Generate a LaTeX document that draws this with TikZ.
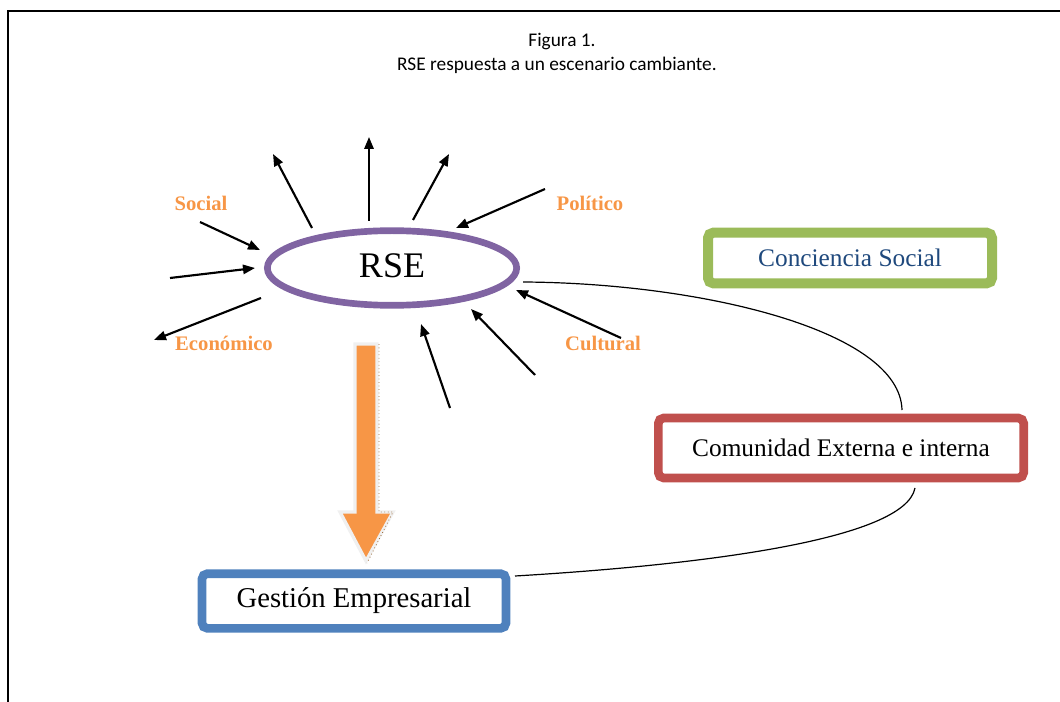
\documentclass[tikz,border=0pt]{standalone}
\usepackage{fontspec}
\setmainfont{Liberation Serif}
\newfontfamily\calib{Carlito}
\usetikzlibrary{arrows.meta,shapes.geometric}
\definecolor{rsepurple}{RGB}{128,100,162}
\definecolor{lblorange}{RGB}{247,150,70}
\definecolor{boxblue}{RGB}{79,129,189}
\definecolor{boxgreen}{RGB}{155,187,89}
\definecolor{boxred}{RGB}{192,80,77}
\definecolor{txtblue}{RGB}{31,73,125}
\tikzset{
  ray/.style={line width=1.6pt,-{Triangle[length=9pt,width=7pt]}},
  lbl/.style={text=lblorange,font=\fontsize{15.5}{18}\selectfont\bfseries},
  cbox/.style={draw,rounded corners=4pt,line width=6.5pt,fill=white,inner sep=0pt},
  link/.style={line width=0.9pt}
}
\begin{document}
\begin{tikzpicture}[x=0.75pt,y=-0.75pt]
\useasboundingbox (0,0) rectangle (1060,702);
% frame
\draw[line width=1pt] (8,702) -- (8,11) -- (1060,11);
% title
\node[font=\calib\fontsize{14.5}{16}\selectfont] (fig) at (562,42) {Figura 1.};
\node[font=\calib\fontsize{14.5}{16}\selectfont] (tit) at (557,65) {RSE respuesta a un escenario cambiante.};
% ellipse
\node[draw=rsepurple,line width=5pt,ellipse,minimum width=187pt,minimum height=56pt,inner sep=0pt] (rse) at (392,268) {};
\node[font=\fontsize{27}{30}\selectfont] (rsetxt) at (392,266) {RSE};
% rays (coordinates)
\coordinate (o1s) at (312,228); \coordinate (o1e) at (273,154);
\coordinate (o2s) at (369,221); \coordinate (o2e) at (369,137);
\coordinate (o3s) at (413,220); \coordinate (o3e) at (449,154);
\coordinate (i4s) at (545,189); \coordinate (i4e) at (456,228);
\coordinate (i5s) at (200,222); \coordinate (i5e) at (260,250);
\coordinate (i6s) at (170,278); \coordinate (i6e) at (255,268);
\coordinate (o7s) at (261,298); \coordinate (o7e) at (154,340);
\coordinate (i8s) at (450,408); \coordinate (i8e) at (421,324);
\coordinate (i9s) at (535,375); \coordinate (i9e) at (471,309);
\coordinate (i10s) at (621,338); \coordinate (i10e) at (516,290);
\foreach \a in {o1,o2,o3,i4,i5,i6,o7,i8,i9,i10}{\draw[ray] (\a s) -- (\a e);}
% labels
\node[lbl] (social) at (201,203) {Social};
\node[lbl] (politico) at (590,203) {Político};
\node[lbl] (economico) at (224,343) {Económico};
\node[lbl] (cultural) at (603,343) {Cultural};
% boxes
\node[cbox,draw=boxblue,minimum width=228pt,minimum height=41pt,font=\fontsize{21.5}{24}\selectfont] (gest) at (354,601) {Gestión Empresarial};
\node[cbox,draw=boxgreen,line width=7.5pt,minimum width=213pt,minimum height=38pt,text=txtblue,font=\fontsize{19}{22}\selectfont] (conc) at (850,258) {Conciencia Social};
\node[cbox,draw=boxred,minimum width=274pt,minimum height=45pt,font=\fontsize{19}{22}\selectfont] (com) at (841,448) {Comunidad Externa e interna};
% orange block arrow
\coordinate (bat) at (366,344);
\draw[line width=2.5pt,draw=black!6,fill=lblorange,line join=miter]
  (355,344) -- (377,344) -- (377,512) -- (393,512) -- (366,561) -- (340,512) -- (355,512) -- cycle;
\draw[dotted,brown!80!black,line width=0.6pt] (379,344) -- (379,512) -- (393,512) -- (367,563);
% curved links
\coordinate (c1a) at (523,282);
\coordinate (c1b) at (902,410);
\draw[link] (c1a) .. controls (700,283) and (900,330) .. (c1b);
\coordinate (c2a) at (915,488);
\coordinate (c2b) at (515,576);
\draw[link] (c2a) .. controls (905,540) and (700,565) .. (c2b);
\end{tikzpicture}
\end{document}
